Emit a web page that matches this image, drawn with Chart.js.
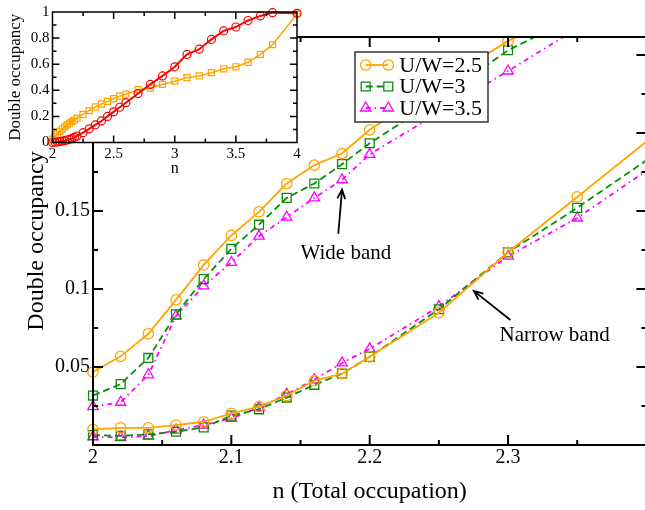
<!DOCTYPE html>
<html>
<head>
<meta charset="utf-8">
<script src="https://cdn.jsdelivr.net/npm/chart.js@4.4.1/dist/chart.umd.min.js"></script>
<style>
  html, body { margin: 0; padding: 0; background: #fff; overflow: hidden; }
  #wrap { position: relative; width: 645px; height: 510px; overflow: hidden; }
  #main, #inset { position: absolute; left: 0; top: 0; }
</style>
</head>
<body>
<div id="wrap">
  <!-- a bit wider than the window: the right edge of the frame falls just outside, as in the original -->
  <canvas id="main" width="654" height="510"></canvas>
  <canvas id="inset" width="310" height="180"></canvas>
</div>
<script>
// ---- main panel data ----
const occupation = [2.0, 2.02, 2.04, 2.06, 2.08, 2.1, 2.12, 2.14, 2.16, 2.18, 2.2, 2.25, 2.3, 2.35, 2.45];
const seriesNames = ['U/W=2.5', 'U/W=3', 'U/W=3.5'];

// wide band (upper curves), leave the top of the frame after n=2.3
const wide25 = [0.0468, 0.0568, 0.0713, 0.093, 0.1154, 0.1343, 0.1494, 0.1676, 0.1794, 0.1868, 0.202, 0.231, 0.259, 0.278, null];
const wide3  = [0.0317, 0.039, 0.0558, 0.0837, 0.1063, 0.1257, 0.1412, 0.1584, 0.1676, 0.18, 0.1934, 0.222, 0.253, 0.275, null];
const wide35 = [0.0246, 0.0274, 0.045, 0.0826, 0.102, 0.117, 0.1339, 0.146, 0.1584, 0.17, 0.1863, 0.213, 0.2397, 0.267, null];

// narrow band (lower curves)
const narrow25 = [0.010, 0.011, 0.011, 0.0128, 0.0149, 0.0203, 0.0246, 0.0317, 0.0412, 0.0457, 0.0565, 0.0848, 0.1235, 0.159, 0.23];
const narrow3  = [0.0063, 0.0059, 0.0068, 0.0085, 0.0113, 0.0188, 0.0229, 0.0304, 0.0386, 0.0457, 0.0565, 0.087, 0.1235, 0.152, 0.213];
const narrow35 = [0.0052, 0.0048, 0.0057, 0.0095, 0.0128, 0.0171, 0.024, 0.0326, 0.0418, 0.0526, 0.0616, 0.0887, 0.121, 0.1455, 0.206];

const xTicks = [2, 2.1, 2.2, 2.3];
const yTicks = [0.05, 0.1, 0.15, 0.2, 0.25];

// ---- inset data ----
const insetN = [2.0, 2.02, 2.04, 2.06, 2.08, 2.1, 2.12, 2.14, 2.16, 2.18, 2.2, 2.25, 2.3, 2.35, 2.4, 2.45, 2.5, 2.55, 2.6,
                2.7, 2.8, 2.9, 3.0, 3.1, 3.2, 3.3, 3.4, 3.5, 3.6, 3.7, 3.8, 4.0];
const insetRed = [0.0, 0.002, 0.004, 0.007, 0.01, 0.014, 0.019, 0.025, 0.032, 0.04, 0.05, 0.075, 0.105, 0.135, 0.165, 0.2,
                  0.235, 0.27, 0.305, 0.375, 0.445, 0.51, 0.58, 0.675, 0.715, 0.79, 0.855, 0.885, 0.935, 0.97, 0.995, 0.99];
const insetOrange = [0.025, 0.045, 0.062, 0.085, 0.103, 0.12, 0.135, 0.148, 0.16, 0.172, 0.186, 0.215, 0.244, 0.272, 0.295,
                     0.315, 0.336, 0.355, 0.37, 0.405, 0.417, 0.445, 0.47, 0.497, 0.51, 0.535, 0.565, 0.58, 0.615, 0.675, 0.75, 0.985];
const insetXTicks = [2, 2.5, 3, 3.5, 4];
const insetYTicks = [0, 0.2, 0.4, 0.6, 0.8, 1];

const notes = [
  { text: 'Wide band', x: 2.15, y: 0.1225, from: [2.1773, 0.1354], to: [2.18, 0.1637] },
  { text: 'Narrow band', x: 2.2938, y: 0.0702, from: [2.3017, 0.0801], to: [2.2752, 0.0988] }
];

const SERIF = "'Liberation Serif', 'DejaVu Serif', serif";
const ORANGE = '#ffa500', GREEN = '#0a8c0a', MAGENTA = '#ff00ff', RED = '#ff0000';

const styles = [
  { color: ORANGE, dash: [], pointStyle: 'circle', radius: 5.2 },
  { color: GREEN, dash: [7, 4], pointStyle: 'rect', radius: 6.3 },
  { color: MAGENTA, dash: [5, 4, 1.5, 4], pointStyle: 'triangle', radius: 6 }
];

const pts = (xs, ys) => xs.map((x, i) => ({ x, y: ys[i] })).filter(p => p.y !== null && p.y !== undefined);

const makeSet = (vals, k) => ({
  label: seriesNames[k],
  data: pts(occupation, vals),
  showLine: true,
  borderColor: styles[k].color,
  borderWidth: 1.8,
  borderDash: styles[k].dash,
  pointStyle: styles[k].pointStyle,
  pointRadius: styles[k].radius,
  pointBorderWidth: 1.3,
  pointBorderColor: styles[k].color,
  pointBackgroundColor: 'rgba(0,0,0,0)',
  tension: 0,
  clip: { left: 10, top: 0, right: 0, bottom: 10 }
});

// ticks pointing inside, on all four sides, plus the frame
const frameTicks = {
  id: 'frameTicks',
  afterDatasetsDraw(chart, args, o) {
    const { ctx, chartArea: a, scales: { x, y } } = chart;
    ctx.save();
    ctx.strokeStyle = '#000';
    ctx.lineWidth = o.width;
    ctx.beginPath();
    for (let i = 0; x.min + i * o.xMinor <= x.max + 1e-9; i++) {
      const v = x.min + i * o.xMinor;
      const len = i % o.xEvery === 0 ? o.major : o.minor;
      const px = x.getPixelForValue(v);
      ctx.moveTo(px, a.bottom); ctx.lineTo(px, a.bottom - len);
      ctx.moveTo(px, a.top); ctx.lineTo(px, a.top + len);
    }
    for (let i = 0; y.min + i * o.yMinor <= y.max + 1e-9; i++) {
      const v = y.min + i * o.yMinor;
      const len = i % o.yEvery === 0 ? o.major : o.minor;
      const py = y.getPixelForValue(v);
      ctx.moveTo(a.left, py); ctx.lineTo(a.left + len, py);
      ctx.moveTo(a.right, py); ctx.lineTo(a.right - len, py);
    }
    ctx.rect(a.left, a.top, a.right - a.left, a.bottom - a.top);
    ctx.stroke();
    ctx.restore();
  }
};

const drawMarker = (ctx, s, x, y) => {
  ctx.fillStyle = 'rgba(0,0,0,0)';
  ctx.strokeStyle = s.color;
  ctx.lineWidth = 1.3;
  ctx.setLineDash([]);
  Chart.helpers.drawPoint(ctx, { pointStyle: s.pointStyle, radius: s.radius, borderWidth: 1.3, rotation: 0 }, x, y);
};

const boxLegend = {
  id: 'boxLegend',
  afterDatasetsDraw(chart, args, o) {
    const { ctx } = chart;
    ctx.save();
    ctx.fillStyle = '#fff';
    ctx.fillRect(o.x, o.y, o.w, o.h);
    ctx.strokeStyle = '#333';
    ctx.lineWidth = 1.5;
    ctx.strokeRect(o.x, o.y, o.w, o.h);
    seriesNames.forEach((name, i) => {
      const s = styles[i];
      const cy = o.y + o.first + i * o.row;
      ctx.strokeStyle = s.color;
      ctx.lineWidth = 1.8;
      ctx.setLineDash(s.dash);
      ctx.beginPath();
      ctx.moveTo(o.x + o.m1, cy);
      ctx.lineTo(o.x + o.m2, cy);
      ctx.stroke();
      drawMarker(ctx, s, o.x + o.m1, cy);
      drawMarker(ctx, s, o.x + o.m2, cy);
      ctx.fillStyle = '#000';
      ctx.font = '22px ' + SERIF;
      ctx.textBaseline = 'middle';
      ctx.fillText(name, o.x + o.tx, cy + 1);
    });
    ctx.restore();
  }
};

const arrowNotes = {
  id: 'arrowNotes',
  afterDatasetsDraw(chart) {
    const { ctx, scales: { x, y } } = chart;
    ctx.save();
    ctx.strokeStyle = '#000';
    ctx.fillStyle = '#000';
    ctx.lineWidth = 1.8;
    ctx.font = '21px ' + SERIF;
    ctx.textBaseline = 'middle';
    notes.forEach(n => {
      ctx.fillText(n.text, x.getPixelForValue(n.x), y.getPixelForValue(n.y));
      const x0 = x.getPixelForValue(n.from[0]), y0 = y.getPixelForValue(n.from[1]);
      const x1 = x.getPixelForValue(n.to[0]), y1 = y.getPixelForValue(n.to[1]);
      const ang = Math.atan2(y1 - y0, x1 - x0);
      ctx.beginPath();
      ctx.moveTo(x0, y0); ctx.lineTo(x1, y1);
      ctx.moveTo(x1 - 10 * Math.cos(ang - 0.4), y1 - 10 * Math.sin(ang - 0.4));
      ctx.lineTo(x1, y1);
      ctx.lineTo(x1 - 10 * Math.cos(ang + 0.4), y1 - 10 * Math.sin(ang + 0.4));
      ctx.stroke();
    });
    ctx.restore();
  }
};

const fmt = v => String(+(+v).toFixed(3));

new Chart(document.getElementById('main'), {
  type: 'scatter',
  data: {
    datasets: [
      makeSet(wide25, 0), makeSet(wide3, 1), makeSet(wide35, 2),
      makeSet(narrow25, 0), makeSet(narrow3, 1), makeSet(narrow35, 2)
    ]
  },
  options: {
    responsive: false,
    animation: false,
    devicePixelRatio: 1,
    layout: { padding: { top: 37, right: 2.4, left: 0, bottom: 0 } },
    plugins: {
      legend: { display: false },
      tooltip: { enabled: false },
      frameTicks: { width: 2, major: 10, minor: 5, xMinor: 0.05, xEvery: 2, yMinor: 0.025, yEvery: 2 },
      boxLegend: { x: 355, y: 52, w: 133, h: 70, first: 13, row: 21.5, m1: 10.7, m2: 33.3, tx: 44.3 }
    },
    scales: {
      x: {
        type: 'linear', min: 2, max: 2.4,
        afterBuildTicks: s => { s.ticks = xTicks.map(v => ({ value: v })); },
        afterFit: s => { s.height = 65; },
        grid: { display: false, drawTicks: false },
        border: { display: false },
        ticks: { color: '#000', font: { family: SERIF, size: 20 }, padding: 1, maxRotation: 0, callback: fmt },
        title: { display: true, text: 'n (Total occupation)', color: '#000', font: { family: SERIF, size: 24 }, padding: { top: 0, bottom: 4 } }
      },
      y: {
        type: 'linear', min: 0, max: 0.2615,
        afterBuildTicks: s => { s.ticks = yTicks.map(v => ({ value: v })); },
        afterFit: s => { s.width = 93; },
        grid: { display: false, drawTicks: false },
        border: { display: false },
        ticks: { color: '#000', font: { family: SERIF, size: 20 }, padding: 3, callback: fmt },
        title: { display: true, text: 'Double occupancy', color: '#000', font: { family: SERIF, size: 24 }, padding: { top: 22, bottom: 0 } }
      }
    }
  },
  plugins: [frameTicks, boxLegend, arrowNotes]
});

// ---- inset ----
const whiteArea = {
  id: 'whiteArea',
  beforeDatasetsDraw(chart) {
    const { ctx, chartArea: a } = chart;
    ctx.save();
    ctx.fillStyle = '#fff';
    ctx.fillRect(a.left, a.top, a.right - a.left, a.bottom - a.top);
    ctx.restore();
  }
};

new Chart(document.getElementById('inset'), {
  type: 'scatter',
  data: {
    datasets: [
      {
        data: pts(insetN, insetRed), showLine: true, borderColor: RED, borderWidth: 2,
        pointStyle: 'circle', pointRadius: 4, pointBorderWidth: 1.2, pointBorderColor: RED,
        pointBackgroundColor: 'rgba(0,0,0,0)', clip: false
      },
      {
        data: pts(insetN, insetOrange), showLine: true, borderColor: ORANGE, borderWidth: 1.5,
        pointStyle: 'rect', pointRadius: 4.3, pointBorderWidth: 1.2, pointBorderColor: ORANGE,
        pointBackgroundColor: 'rgba(0,0,0,0)', clip: false
      }
    ]
  },
  options: {
    responsive: false,
    animation: false,
    devicePixelRatio: 1,
    layout: { padding: { top: 11, right: 13, left: 0, bottom: 0 } },
    plugins: {
      legend: { display: false },
      tooltip: { enabled: false },
      frameTicks: { width: 1.5, major: 7, minor: 4, xMinor: 0.25, xEvery: 2, yMinor: 0.1, yEvery: 2 }
    },
    scales: {
      x: {
        type: 'linear', min: 2, max: 4,
        afterBuildTicks: s => { s.ticks = insetXTicks.map(v => ({ value: v })); },
        afterFit: s => { s.height = 37.5; },
        grid: { display: false, drawTicks: false },
        border: { display: false },
        ticks: { color: '#000', font: { family: SERIF, size: 15 }, padding: 3, maxRotation: 0, callback: fmt },
        title: { display: true, text: 'n', color: '#000', font: { family: SERIF, size: 16 }, padding: { top: 0, bottom: 2 } }
      },
      y: {
        type: 'linear', min: 0, max: 1,
        afterBuildTicks: s => { s.ticks = insetYTicks.map(v => ({ value: v })); },
        afterFit: s => { s.width = 52.5; },
        grid: { display: false, drawTicks: false },
        border: { display: false },
        ticks: { color: '#000', font: { family: SERIF, size: 15 }, padding: 3, callback: fmt },
        title: { display: true, text: 'Double occupancy', color: '#000', font: { family: SERIF, size: 17 }, padding: { top: 5, bottom: 0 } }
      }
    }
  },
  plugins: [whiteArea, frameTicks]
});
</script>
</body>
</html>
